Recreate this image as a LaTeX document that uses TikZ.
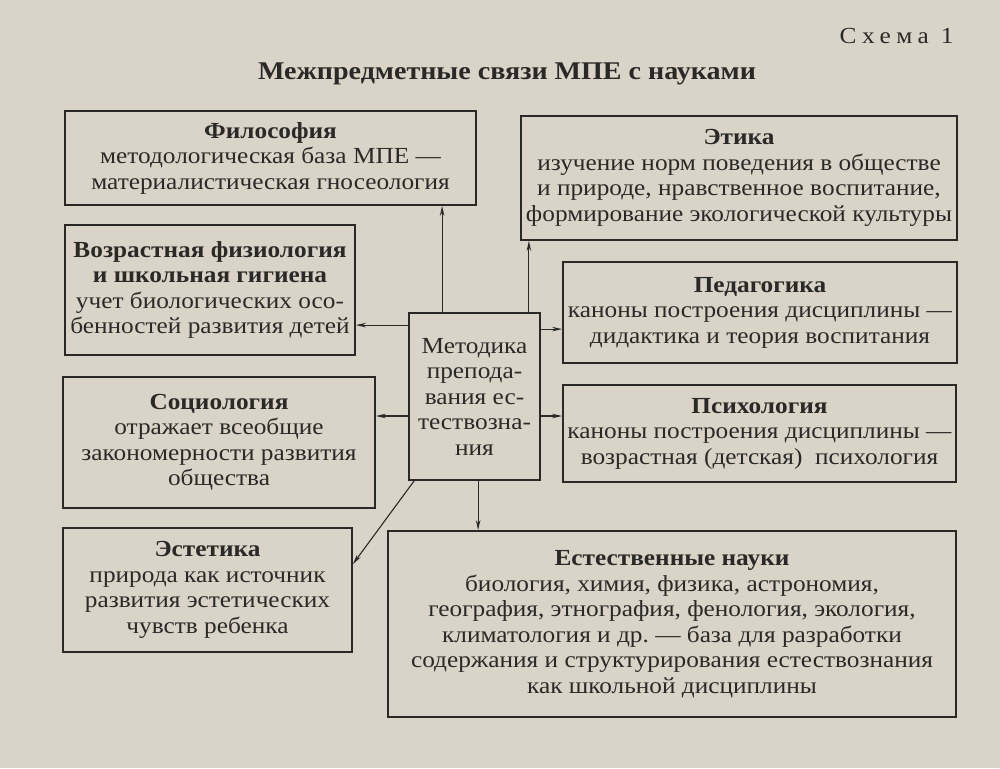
\documentclass[tikz,border=0pt]{standalone}
\usepackage{fontspec}
\setmainfont{Liberation Serif}[FakeStretch=1.1]
\usepackage{xcolor}
\usetikzlibrary{positioning,calc,arrows.meta}
\frenchspacing
\definecolor{paper}{HTML}{D9D3C8}
\definecolor{ink}{HTML}{2B2927}
\tikzstyle{box} = [rectangle, draw=ink, line width=1.8pt, align=center, inner sep=0pt, text=ink, font=\fontsize{23}{25.5}\selectfont]
\tikzstyle{arrow} = [draw=ink, line width=1.1pt, -{Stealth[length=10pt,width=4.5pt]}]

\begin{document}
\begin{tikzpicture}[x=1pt,y=-1pt]
        \fill[paper] (0,0) rectangle (1000,768);
        \useasboundingbox (0,0) rectangle (1000,768);

        \node[anchor=east,text=ink,font=\fontsize{23}{26}\selectfont] (scheme) at (957,36) {\addfontfeature{LetterSpace=24}Схема 1};
        \node[text=ink,font=\bfseries\fontsize{25.5}{28}\selectfont] (title) at (507,74) {Межпредметные связи МПЕ с науками};

        \node[box,minimum width=411,minimum height=94] (Phil) at (270.5,158) {\textbf{Философия}\\методологическая база МПЕ —\\материалистическая гносеология};
        \node[box,minimum width=436,minimum height=124] (Ethics) at (739,178) {\textbf{Этика}\\изучение норм поведения в обществе\\и природе, нравственное воспитание,\\формирование экологической культуры};
        \node[box,minimum width=290,minimum height=130] (Vozr) at (210,290) {\textbf{Возрастная физиология}\\\textbf{и школьная гигиена}\\учет биологических осо-\\бенностей развития детей};
        \node[box,minimum width=394,minimum height=101] (Pedag) at (760,312.5) {\textbf{Педагогика}\\каноны построения дисциплины —\\дидактика и теория воспитания};
        \node[box,minimum width=131,minimum height=167] (MPE) at (474.5,396.5) {Методика\\препода-\\вания ес-\\тествозна-\\ния};
        \node[box,minimum width=312,minimum height=131] (Soc) at (219,442.5) {\textbf{Социология}\\отражает всеобщие\\закономерности развития\\общества};
        \node[box,minimum width=393,minimum height=97] (Psych) at (759.5,433.5) {\textbf{Психология}\\каноны построения дисциплины —\\возрастная (детская)\ \ психология};
        \node[box,minimum width=289,minimum height=124] (Estet) at (207.5,590) {\textbf{Эстетика}\\природа как источник\\развития эстетических\\чувств ребенка};
        \node[box,minimum width=568,minimum height=186] (Nat) at (672,624) {\textbf{Естественные науки}\\биология, химия, физика, астрономия,\\география, этнография, фенология, экология,\\климатология и др. — база для разработки\\содержания и структурирования естествознания\\как школьной дисциплины};

        \coordinate (up1) at ($(MPE.north west)+(34,0)$);
        \coordinate (up2) at ($(MPE.north east)+(-12,0)$);
        \coordinate (lt1) at ($(MPE.north west)+(0,13)$);
        \coordinate (rt1) at ($(MPE.north east)+(0,17)$);
        \coordinate (lt2) at ($(MPE.west)+(0,19.5)$);
        \coordinate (dn1) at ($(MPE.south west)+(70,0)$);
        \coordinate (dg1) at ($(MPE.south west)+(6,0)$);
        \coordinate (dg2) at ($(Estet.north east)+(0,37)$);

        \path (up1) edge[arrow] (up1 |- Phil.south);
        \path (up2) edge[arrow] (up2 |- Ethics.south);
        \path (lt1) edge[arrow] (lt1 -| Vozr.east);
        \path (rt1) edge[arrow] (rt1 -| Pedag.west);
        \path (lt2) edge[arrow] (lt2 -| Soc.east);
        \path (lt2 -| MPE.east) edge[arrow] (lt2 -| Psych.west);
        \path (dn1) edge[arrow] (dn1 |- Nat.north);
        \path (dg1) edge[arrow] (dg2);
\end{tikzpicture}
\end{document}
